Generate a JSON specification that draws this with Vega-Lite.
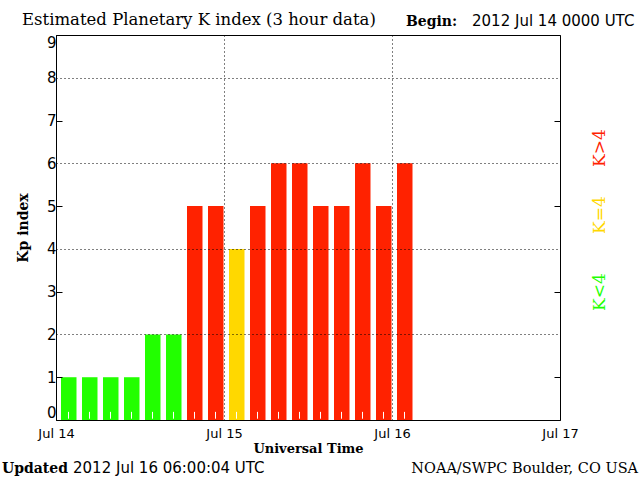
{
  "$schema": "https://vega.github.io/schema/vega-lite/v6.json",
  "width": 504,
  "height": 385,
  "autosize": {"type": "none"},
  "padding": {"left": 56, "top": 35, "right": 80, "bottom": 60},
  "background": "white",
  "config": {"view": {"stroke": "black", "strokeWidth": 1}},
  "datasets": {
    "kp": [
      {"start": "2012-07-14T00:00:00Z", "end": "2012-07-14T03:00:00Z", "kp": 1},
      {"start": "2012-07-14T03:00:00Z", "end": "2012-07-14T06:00:00Z", "kp": 1},
      {"start": "2012-07-14T06:00:00Z", "end": "2012-07-14T09:00:00Z", "kp": 1},
      {"start": "2012-07-14T09:00:00Z", "end": "2012-07-14T12:00:00Z", "kp": 1},
      {"start": "2012-07-14T12:00:00Z", "end": "2012-07-14T15:00:00Z", "kp": 2},
      {"start": "2012-07-14T15:00:00Z", "end": "2012-07-14T18:00:00Z", "kp": 2},
      {"start": "2012-07-14T18:00:00Z", "end": "2012-07-14T21:00:00Z", "kp": 5},
      {"start": "2012-07-14T21:00:00Z", "end": "2012-07-15T00:00:00Z", "kp": 5},
      {"start": "2012-07-15T00:00:00Z", "end": "2012-07-15T03:00:00Z", "kp": 4},
      {"start": "2012-07-15T03:00:00Z", "end": "2012-07-15T06:00:00Z", "kp": 5},
      {"start": "2012-07-15T06:00:00Z", "end": "2012-07-15T09:00:00Z", "kp": 6},
      {"start": "2012-07-15T09:00:00Z", "end": "2012-07-15T12:00:00Z", "kp": 6},
      {"start": "2012-07-15T12:00:00Z", "end": "2012-07-15T15:00:00Z", "kp": 5},
      {"start": "2012-07-15T15:00:00Z", "end": "2012-07-15T18:00:00Z", "kp": 5},
      {"start": "2012-07-15T18:00:00Z", "end": "2012-07-15T21:00:00Z", "kp": 6},
      {"start": "2012-07-15T21:00:00Z", "end": "2012-07-16T00:00:00Z", "kp": 5},
      {"start": "2012-07-16T00:00:00Z", "end": "2012-07-16T03:00:00Z", "kp": 6}
    ],
    "one": [{}]
  },
  "resolve": {"axis": {"y": "independent"}},
  "layer": [
    {
      "data": {"name": "kp"},
      "mark": {"type": "bar", "xOffset": 5, "x2Offset": -0.5},
      "encoding": {
        "x": {
          "field": "start", "type": "temporal",
          "scale": {"type": "utc", "domain": [{"year": 2012, "month": 7, "date": 14, "utc": true}, {"year": 2012, "month": 7, "date": 17, "utc": true}]},
          "axis": {
            "values": [
              {"year": 2012, "month": 7, "date": 14, "utc": true},
              {"year": 2012, "month": 7, "date": 15, "utc": true},
              {"year": 2012, "month": 7, "date": 16, "utc": true},
              {"year": 2012, "month": 7, "date": 17, "utc": true}
            ],
            "format": "%b %d",
            "ticks": false,
            "labelFont": "DejaVu Sans", "labelFontSize": 13, "labelColor": "black",
            "labelPadding": 7,
            "labelFlush": false,
            "labelOverlap": false,
            "domainColor": "black",
            "grid": true, "gridColor": "black", "gridDash": [1, 3], "gridWidth": 1,
            "gridOpacity": {"expr": "datum.index > 0 && datum.index < 1 ? 1 : 0"},
            "zindex": 1,
            "title": "Universal Time",
            "titleFont": "DejaVu Serif", "titleFontSize": 13, "titleFontWeight": "bold", "titleColor": "black",
            "titlePadding": 2
          }
        },
        "x2": {"field": "end"},
        "y": {
          "field": "kp", "type": "quantitative",
          "scale": {"domain": [0, 9], "nice": false},
          "axis": {
            "values": [0, 1, 2, 3, 4, 5, 6, 7, 8, 9],
            "tickSize": -6, "tickColor": "black",
            "tickOpacity": {"expr": "datum.value % 2 == 1 ? 1 : 0"},
            "labelFont": "DejaVu Sans", "labelFontSize": 15, "labelColor": "black",
            "labelPadding": 6,
            "labelFlush": true,
            "domainColor": "black",
            "grid": true, "gridColor": "black", "gridDash": [1, 3], "gridWidth": 1,
            "gridOpacity": {"expr": "datum.value % 2 == 0 && datum.value > 0 ? 1 : 0"},
            "zindex": 1,
            "title": "Kp index",
            "titleFont": "DejaVu Serif", "titleFontSize": 14, "titleFontWeight": "bold", "titleColor": "black",
            "titlePadding": 16
          }
        },
        "y2": {"datum": 0},
        "color": {
          "field": "kp", "type": "quantitative",
          "scale": {"type": "threshold", "domain": [4, 5], "range": ["#22ff00", "#ffd800", "#ff2200"]},
          "legend": null
        }
      }
    },
    {
      "data": {"name": "kp"},
      "mark": {"type": "rule", "color": "white", "strokeWidth": 1, "xOffset": 12.5},
      "encoding": {
        "x": {"field": "start", "type": "temporal"},
        "y": {"datum": 0.03, "type": "quantitative",
          "axis": {"orient": "right", "values": [1, 3, 5, 7, 9], "labels": false, "tickSize": -6, "tickColor": "black", "domain": false, "grid": false, "title": null}},
        "y2": {"datum": 0.19}
      }
    },
    {
      "data": {"name": "one"},
      "mark": {"type": "text", "align": "left", "baseline": "alphabetic", "font": "DejaVu Serif", "fontSize": 16.5, "color": "black", "text": "Estimated Planetary K index (3 hour data)"},
      "encoding": {
        "x": {"datum": {"year": 2012, "month": 7, "date": 13, "hours": 19, "minutes": 9, "utc": true}, "type": "temporal"},
        "y": {"datum": 9.233, "type": "quantitative", "axis": null}
      }
    },
    {
      "data": {"name": "one"},
      "mark": {"type": "text", "align": "left", "baseline": "alphabetic", "font": "DejaVu Serif", "fontSize": 14, "fontWeight": "bold", "color": "black", "text": "Begin:"},
      "encoding": {
        "x": {"datum": {"year": 2012, "month": 7, "date": 16, "hours": 2, "utc": true}, "type": "temporal"},
        "y": {"datum": 9.21, "type": "quantitative", "axis": null}
      }
    },
    {
      "data": {"name": "one"},
      "mark": {"type": "text", "align": "left", "baseline": "alphabetic", "font": "DejaVu Sans", "fontSize": 15, "color": "black", "text": "2012 Jul 14 0000 UTC"},
      "encoding": {
        "x": {"datum": {"year": 2012, "month": 7, "date": 16, "hours": 11, "minutes": 26, "utc": true}, "type": "temporal"},
        "y": {"datum": 9.21, "type": "quantitative", "axis": null}
      }
    },
    {
      "data": {"name": "one"},
      "mark": {"type": "text", "align": "left", "baseline": "alphabetic", "font": "DejaVu Serif", "fontSize": 14, "fontWeight": "bold", "color": "black", "text": "Updated"},
      "encoding": {
        "x": {"datum": {"year": 2012, "month": 7, "date": 13, "hours": 16, "minutes": 17, "utc": true}, "type": "temporal"},
        "y": {"datum": -1.239, "type": "quantitative", "axis": null}
      }
    },
    {
      "data": {"name": "one"},
      "mark": {"type": "text", "align": "left", "baseline": "alphabetic", "font": "DejaVu Sans", "fontSize": 15, "color": "black", "text": "2012 Jul 16 06:00:04 UTC"},
      "encoding": {
        "x": {"datum": {"year": 2012, "month": 7, "date": 14, "hours": 2, "minutes": 26, "utc": true}, "type": "temporal"},
        "y": {"datum": -1.239, "type": "quantitative", "axis": null}
      }
    },
    {
      "data": {"name": "one"},
      "mark": {"type": "text", "align": "right", "baseline": "alphabetic", "font": "DejaVu Serif", "fontSize": 14.5, "color": "black", "text": "NOAA/SWPC Boulder, CO USA"},
      "encoding": {
        "x": {"datum": {"year": 2012, "month": 7, "date": 17, "hours": 11, "minutes": 9, "utc": true}, "type": "temporal"},
        "y": {"datum": -1.239, "type": "quantitative", "axis": null}
      }
    },
    {
      "data": {"name": "one"},
      "mark": {"type": "text", "align": "center", "baseline": "middle", "angle": 270, "font": "DejaVu Serif", "fontSize": 17, "color": "#ff2200", "text": "K>4"},
      "encoding": {
        "x": {"datum": {"year": 2012, "month": 7, "date": 17, "hours": 5, "minutes": 43, "utc": true}, "type": "temporal"},
        "y": {"datum": 6.358, "type": "quantitative", "axis": null}
      }
    },
    {
      "data": {"name": "one"},
      "mark": {"type": "text", "align": "center", "baseline": "middle", "angle": 270, "font": "DejaVu Serif", "fontSize": 17, "color": "#ffd800", "text": "K=4"},
      "encoding": {
        "x": {"datum": {"year": 2012, "month": 7, "date": 17, "hours": 5, "minutes": 43, "utc": true}, "type": "temporal"},
        "y": {"datum": 4.792, "type": "quantitative", "axis": null}
      }
    },
    {
      "data": {"name": "one"},
      "mark": {"type": "text", "align": "center", "baseline": "middle", "angle": 270, "font": "DejaVu Serif", "fontSize": 17, "color": "#22ff00", "text": "K<4"},
      "encoding": {
        "x": {"datum": {"year": 2012, "month": 7, "date": 17, "hours": 5, "minutes": 43, "utc": true}, "type": "temporal"},
        "y": {"datum": 2.992, "type": "quantitative", "axis": null}
      }
    }
  ]
}
